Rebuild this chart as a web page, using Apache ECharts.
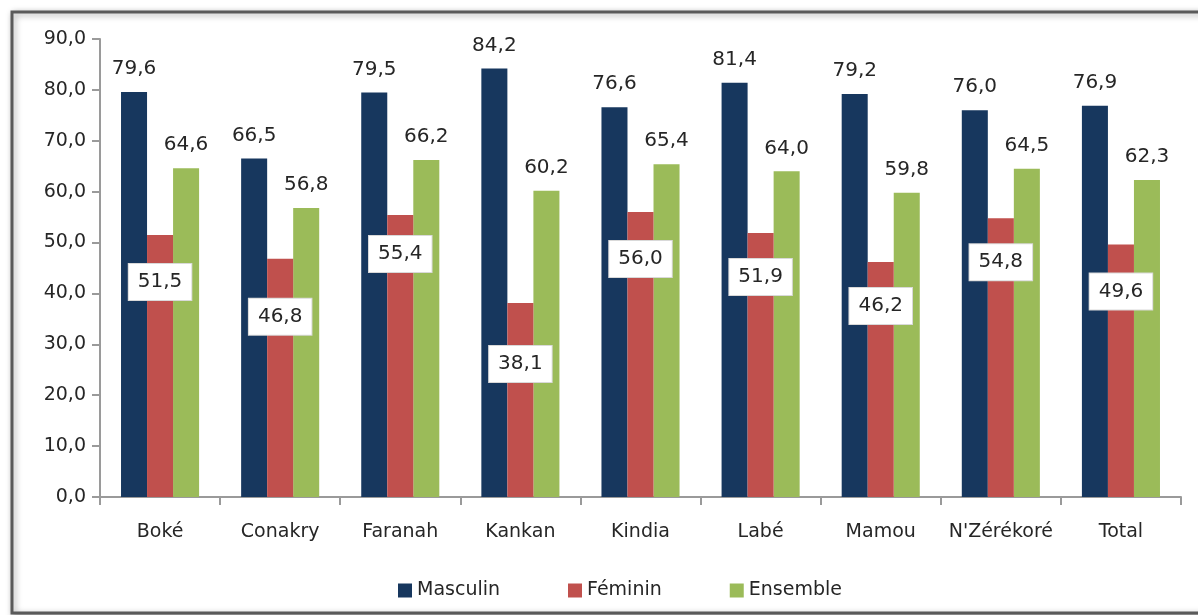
<!DOCTYPE html>
<html>
<head>
<meta charset="utf-8">
<script src="https://cdn.jsdelivr.net/npm/echarts@6/dist/echarts.min.js"></script>
<style>
  html, body { margin: 0; padding: 0; background: #fff; }
  #main { width: 1198px; height: 615px; }
</style>
</head>
<body>
<div id="main"></div>
<script>
// données
var regions = ["Boké", "Conakry", "Faranah", "Kankan", "Kindia", "Labé", "Mamou", "N'Zérékoré", "Total"];
var masculin = [79.6, 66.5, 79.5, 84.2, 76.6, 81.4, 79.2, 76.0, 76.9];
var feminin = [51.5, 46.8, 55.4, 38.1, 56.0, 51.9, 46.2, 54.8, 49.6];
var ensemble = [64.6, 56.8, 66.2, 60.2, 65.4, 64.0, 59.8, 64.5, 62.3];

// décalage vertical des étiquettes Féminin (px sous le haut de la barre)
var feminLabelDrop = [48, 59, 40, 62, 48, 45, 45, 45, 48];

var fmt = function (v) { return Number(v).toFixed(1).replace(".", ","); };
var FONT = "DejaVu Sans";

var myChart = echarts.init(document.getElementById("main"));

var topLabel = {
  show: true,
  position: "top",
  distance: 13,
  fontFamily: FONT,
  fontSize: 20,
  color: "#262626",
  formatter: function (p) { return fmt(p.value); }
};

var feminData = feminin.map(function (v, i) {
  return {
    value: v,
    label: { offset: [0, feminLabelDrop[i] - 19] }
  };
});

var option = {
  animation: false,
  backgroundColor: "#fff",
  graphic: [
    {
      type: "rect",
      shape: { x: 12, y: 12, width: 1200, height: 601 },
      style: {
        fill: "#fff",
        stroke: "#5a5a5a",
        lineWidth: 3,
        shadowColor: "rgba(0,0,0,0.35)",
        shadowBlur: 6,
        shadowOffsetX: 2,
        shadowOffsetY: 2
      },
      z: -10
    }
  ],
  grid: {
    left: 100,
    right: 17,
    top: 39,
    bottom: 118
  },
  legend: {
    left: 393,
    top: 576,
    itemGap: 68,
    itemWidth: 14,
    itemHeight: 14,
    icon: "rect",
    textStyle: { fontFamily: FONT, fontSize: 19, color: "#262626" },
    data: ["Masculin", "Féminin", "Ensemble"]
  },
  xAxis: {
    type: "category",
    data: regions,
    axisLine: { show: true, lineStyle: { color: "#9a9a9a", width: 2 } },
    axisTick: { show: true, interval: 0, length: 8, lineStyle: { color: "#9a9a9a", width: 2 } },
    axisLabel: {
      interval: 0,
      fontFamily: FONT,
      fontSize: 19,
      color: "#262626",
      margin: 26
    }
  },
  yAxis: {
    type: "value",
    min: 0,
    max: 90,
    interval: 10,
    axisLine: { show: true, lineStyle: { color: "#9a9a9a", width: 2 } },
    axisTick: { show: true, length: 8, lineStyle: { color: "#9a9a9a", width: 2 } },
    splitLine: { show: false },
    axisLabel: {
      fontFamily: FONT,
      fontSize: 19,
      color: "#262626",
      margin: 14,
      formatter: fmt
    }
  },
  series: [
    {
      name: "Masculin",
      type: "bar",
      barGap: 0,
      barCategoryGap: "35%",
      itemStyle: { color: "#17375E" },
      label: topLabel,
      data: masculin
    },
    {
      name: "Féminin",
      type: "bar",
      itemStyle: { color: "#C0504D" },
      label: {
        show: true,
        position: "insideTop",
        distance: 0,
        fontFamily: FONT,
        fontSize: 20,
        color: "#262626",
        backgroundColor: "#fff",
        borderColor: "#d9d9d9",
        borderWidth: 1,
        padding: [8, 9, 8, 9],
        formatter: function (p) { return fmt(p.value); }
      },
      z: 3,
      data: feminData
    },
    {
      name: "Ensemble",
      type: "bar",
      itemStyle: { color: "#9BBB59" },
      label: topLabel,
      data: ensemble
    }
  ]
};

option && myChart.setOption(option);
</script>
</body>
</html>
